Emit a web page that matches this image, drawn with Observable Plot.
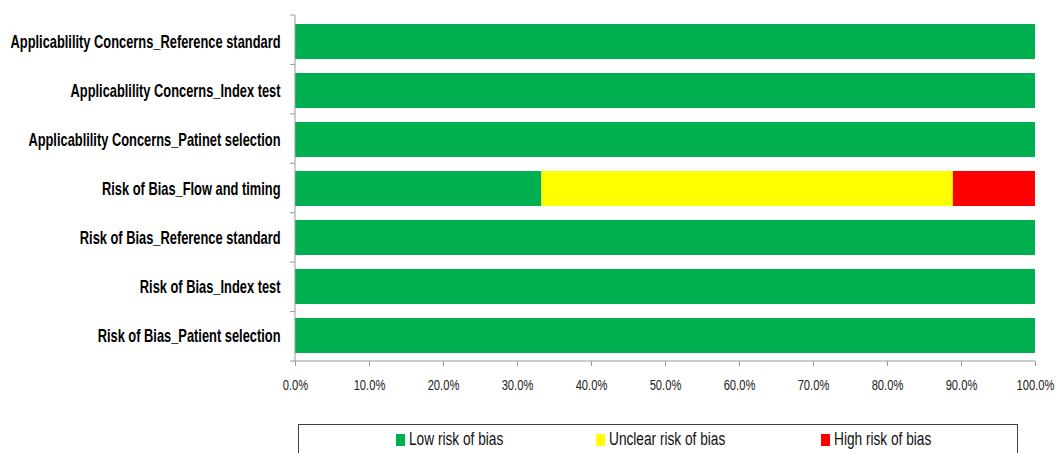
<!DOCTYPE html>
<html><head><meta charset="utf-8">
<script src="https://cdn.jsdelivr.net/npm/d3@7"></script>
<script src="https://cdn.jsdelivr.net/npm/@observablehq/plot@0.6"></script>
<style>
body{margin:0;background:#fff;font-family:"Liberation Sans",Arial,sans-serif;}
#wrap{position:relative;width:1056px;height:453px;overflow:hidden;}
#legend{position:absolute;left:298px;top:424px;width:720px;height:40px;border:1px solid #404040;box-sizing:border-box;}
.item{position:absolute;top:4px;font-size:18px;color:#111;white-space:nowrap;}
.sw{display:inline-block;width:9px;height:12px;margin-right:4px;vertical-align:-1px;}
.lt{display:inline-block;transform:scaleX(0.76);transform-origin:0 50%;}
</style></head><body>
<div id="wrap"><div id="chart"></div><div id="legend"></div></div>
<script>
const categories = [
  "Applicablility Concerns_Reference standard",
  "Applicablility Concerns_Index test",
  "Applicablility Concerns_Patinet selection",
  "Risk of Bias_Flow and timing",
  "Risk of Bias_Reference standard",
  "Risk of Bias_Index test",
  "Risk of Bias_Patient selection"
];
const lowRisk     = [1, 1, 1, 0.333, 1, 1, 1];
const unclearRisk = [0, 0, 0, 0.556, 0, 0, 0];
const highRisk    = [0, 0, 0, 0.111, 0, 0, 0];
const levels = ["Low risk of bias", "Unclear risk of bias", "High risk of bias"];
const colors = ["#00b050", "#ffff00", "#ff0000"];
const xTicks = [0,0.1,0.2,0.3,0.4,0.5,0.6,0.7,0.8,0.9,1.0];

const series = [lowRisk, unclearRisk, highRisk];
const data = [];
categories.forEach((c, i) => levels.forEach((l, j) => {
  if (series[j][i] > 0) data.push({category: c, level: l, value: series[j][i], order: j});
}));

const plot = Plot.plot({
  width: 1056, height: 411,
  marginLeft: 295, marginRight: 21, marginTop: 15, marginBottom: 50,
  style: {fontFamily: '"Liberation Sans", Arial, sans-serif', background: "#fff", overflow: "visible"},
  x: {domain: [0, 1], label: null},
  y: {domain: categories, label: null, paddingInner: 0.29, paddingOuter: 0.145},
  color: {domain: levels, range: colors},
  marks: [
    Plot.barX(data, Plot.stackX({x: "value", y: "category", fill: "level", order: "order"})),
    Plot.axisX({ticks: xTicks, tickFormat: d3.format(".1%"), tickSize: 5, stroke: "#999", fontSize: 14, fill: "#222", tickPadding: 14, label: null}),
    Plot.axisY({tickSize: 0, tickPadding: 15, fontSize: 18, fill: "#000", fontWeight: "bold", label: null})
  ]
});
document.getElementById("chart").appendChild(plot);

const svg = d3.select(plot);
// condensed look for text
svg.selectAll('g[aria-label="y-axis tick label"] text').each(function() {
  const t = this.getAttribute("transform") || "";
  this.setAttribute("transform", t + " scale(0.715,1)");
});
svg.selectAll('g[aria-label="x-axis tick label"] text').each(function() {
  const t = this.getAttribute("transform") || "";
  this.setAttribute("transform", t + " scale(0.8,1)");
});

const ys = plot.scale("y");
const xs = plot.scale("x");
const x0 = xs.apply(0), x1 = xs.apply(1);
const yTop = Math.min(...ys.range), yBottom = Math.max(...ys.range);
const stepY = (yBottom - yTop) / categories.length;
svg.append("line").attr("x1", x0).attr("x2", x0).attr("y1", yTop).attr("y2", yBottom).attr("stroke", "#999");
svg.append("line").attr("x1", x0).attr("x2", x1).attr("y1", yBottom).attr("y2", yBottom).attr("stroke", "#999");
for (let i = 0; i <= categories.length; i++) {
  const y = yTop + i * stepY;
  svg.append("line").attr("x1", x0 - 5).attr("x2", x0).attr("y1", y).attr("y2", y).attr("stroke", "#999");
}

const legend = document.getElementById("legend");
const lefts = [97, 297, 522];
levels.forEach((l, i) => {
  const d = document.createElement("div");
  d.className = "item"; d.style.left = lefts[i] + "px";
  d.innerHTML = `<span class="sw" style="background:${colors[i]}"></span><span class="lt">${l}</span>`;
  legend.appendChild(d);
});
</script></body></html>
